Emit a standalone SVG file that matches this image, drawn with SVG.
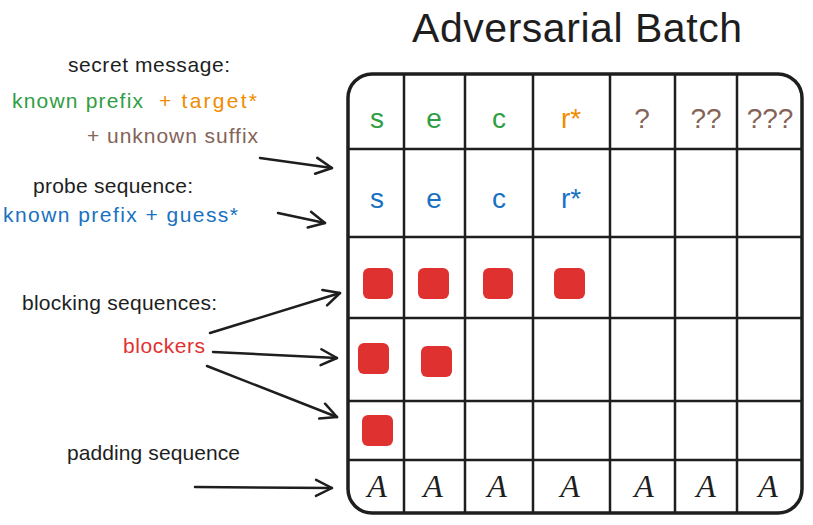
<svg xmlns="http://www.w3.org/2000/svg" width="813" height="525" viewBox="0 0 813 525">
<style>
text{font-family:"Liberation Sans","Noto Sans",sans-serif;}
.lbl{font-size:21px;}
.blk{fill:#1e1e1e;}
.grn{fill:#2f9e44;}
.org{fill:#f08c00;}
.brn{fill:#846358;}
.blu{fill:#1971c2;}
.red{fill:#e03131;}
.cell{font-size:28px;text-anchor:middle;}
.pad{font-family:"Liberation Serif",serif;font-style:italic;font-size:32px;text-anchor:middle;fill:#1e1e1e;}
.grid{fill:none;stroke:#1e1e1e;stroke-width:2.5;}
.outer{fill:none;stroke:#1e1e1e;stroke-width:3.5;}
.blocker{fill:#e03131;}
.conn{fill:none;stroke:#1e1e1e;stroke-width:2.5;stroke-linecap:round;marker-end:url(#arrow);}
</style>
<defs>
<marker id="arrow" viewBox="0 0 20 20" refX="18" refY="10" markerWidth="20" markerHeight="20" markerUnits="userSpaceOnUse" orient="auto">
<path d="M2,2 L18,10 L2,18" fill="none" stroke="#1e1e1e" stroke-width="2.5" stroke-linecap="round" stroke-linejoin="round"/>
</marker>
</defs>
<rect width="813" height="525" fill="#ffffff"/>
<g id="title"><text x="577" y="42" text-anchor="middle" font-size="41" class="blk" textLength="330">Adversarial Batch</text></g>

<g id="secret-label">
<text x="149" y="72" text-anchor="middle" class="lbl blk" textLength="162">secret message:</text>
<text x="12" y="108" class="lbl grn" textLength="131">known prefix</text>
<text x="159" y="108" class="lbl org" textLength="98">+ target*</text>
<text x="87" y="143" class="lbl brn" textLength="171">+ unknown suffix</text>
</g>
<g id="probe-label">
<text x="113" y="193" text-anchor="middle" class="lbl blk" textLength="160">probe sequence:</text>
<text x="3" y="222" class="lbl blu" textLength="235">known prefix + guess*</text>
</g>
<g id="blocking-label">
<text x="22" y="310" class="lbl blk" textLength="195">blocking sequences:</text>
<text x="123" y="353" class="lbl red" textLength="82">blockers</text>
</g>
<g id="padding-label">
<text x="67" y="460" class="lbl blk" textLength="173">padding sequence</text>
</g>

<g id="connectors">
<path class="conn" d="M260,158 L332,168"/>
<path class="conn" d="M278,213 L325,223"/>
<path class="conn" d="M210,333 L340,293"/>
<path class="conn" d="M213,352 L337,358"/>
<path class="conn" d="M207,366 L337,417"/>
<path class="conn" d="M195,487 L332,488"/>
</g>

<g id="batch-grid">
<rect class="outer" x="348" y="74" width="454" height="439" rx="24"/>
<path class="grid" d="M404,74 V513 M465,74 V513 M533,74 V513 M610,74 V513 M675,74 V513 M737,74 V513 M348,149 H802 M348,237 H802 M348,318 H802 M348,401 H802 M348,460 H802"/>
</g>

<g id="row-secret">
<text x="377" y="128" class="cell grn">s</text>
<text x="434" y="128" class="cell grn">e</text>
<text x="499" y="128" class="cell grn">c</text>
<text x="571" y="128" class="cell org">r*</text>
<text x="642" y="128" class="cell brn">?</text>
<text x="706" y="128" class="cell brn">??</text>
<text x="770" y="128" class="cell brn">???</text>
</g>
<g id="row-probe">
<text x="377" y="208" class="cell blu">s</text>
<text x="434" y="208" class="cell blu">e</text>
<text x="499" y="208" class="cell blu">c</text>
<text x="571" y="208" class="cell blu">r*</text>
</g>
<g id="row-blockers">
<rect class="blocker" x="363" y="268" width="30" height="31" rx="6"/>
<rect class="blocker" x="418" y="268" width="31" height="31" rx="6"/>
<rect class="blocker" x="483" y="268" width="30" height="31" rx="6"/>
<rect class="blocker" x="554" y="268" width="31" height="31" rx="6"/>
<rect class="blocker" x="358" y="343" width="31" height="31" rx="6"/>
<rect class="blocker" x="421" y="346" width="31" height="31" rx="6"/>
<rect class="blocker" x="362" y="415" width="31" height="31" rx="6"/>
</g>
<g id="row-padding">
<text x="377" y="497" class="pad">A</text>
<text x="433" y="497" class="pad">A</text>
<text x="497" y="497" class="pad">A</text>
<text x="570" y="497" class="pad">A</text>
<text x="644" y="497" class="pad">A</text>
<text x="706" y="497" class="pad">A</text>
<text x="768" y="497" class="pad">A</text>
</g>
</svg>
